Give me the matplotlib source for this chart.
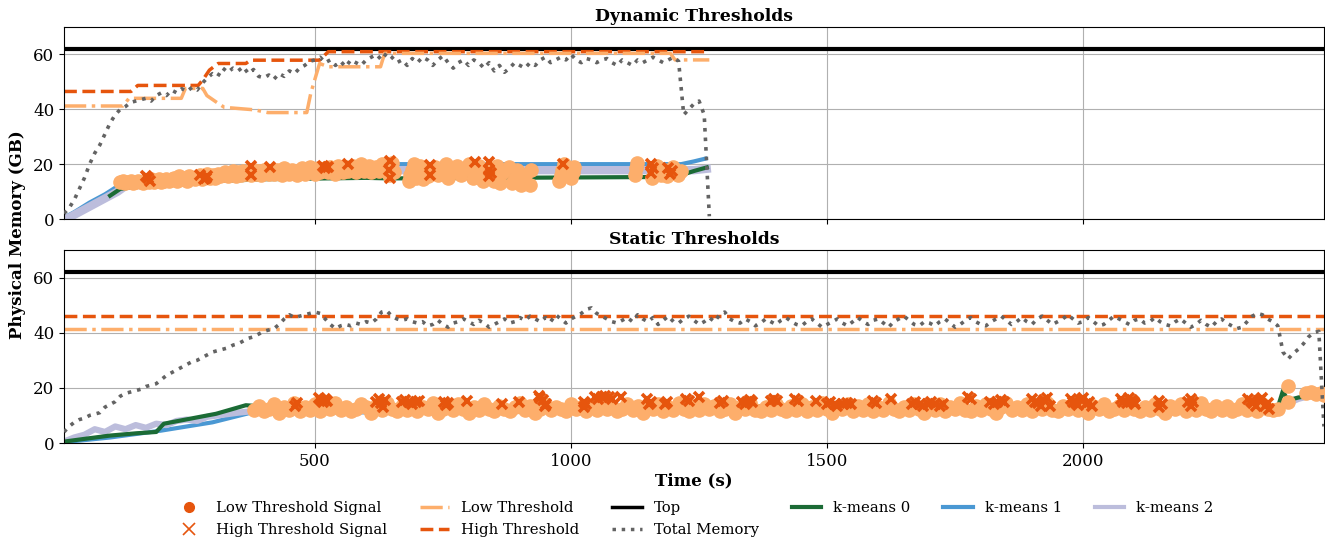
import numpy as np
import matplotlib
matplotlib.use("Agg")
import matplotlib.pyplot as plt
from matplotlib.lines import Line2D

plt.rcParams['font.family'] = ['DejaVu Serif']

# ---------------- colours ----------------
C_HIGH = '#e6550d'
C_LOW = '#fdae6b'
C_TOP = 'black'
C_TOTAL = '#636363'
C_K0 = '#1b6b35'
C_K1 = '#4a98d3'
C_K2 = '#bcbddc'

TOP_MEM = 62.0

# ---------------- DYNAMIC panel data ----------------
dyn_total_t = np.arange(10, 1271, 10)
dyn_total_v = [
    2, 4, 7, 11, 15, 20, 24, 27, 31, 35,
    38, 40, 41, 42.5, 43, 43.5, 44, 43, 45, 46,
    45, 47, 46, 47.5, 46.5, 48, 47, 49.5, 51.5, 53,
    52, 55, 53.5, 55, 54, 55.5, 53, 54.5, 52, 51.5,
    52.5, 51, 53, 52, 54, 53, 55, 56, 57.5, 58,
    59, 57, 58, 56, 57.5, 55.5, 58, 57, 56, 58,
    59, 60, 58, 60.5, 59, 57, 58, 56, 58.5, 57,
    59, 58, 56, 58, 59.5, 57, 55, 57, 58, 56,
    58, 57, 55, 57, 54, 56, 53.5, 55, 57, 56,
    55, 57, 56, 58, 59, 57, 58, 59, 58, 60,
    58, 57, 58.5, 58, 57, 58, 58.5, 57, 56, 58,
    57, 56, 58, 57, 58, 59, 58, 57, 58, 59,
    57.5, 38, 40, 42, 43, 38, 1,
]

dyn_high_t = [10, 141, 154, 272, 281, 294, 311, 365, 374, 509, 526, 1270]
dyn_high_v = [46.5, 46.5, 48.7, 48.7, 50.7, 54.3, 56.7, 56.7, 57.9, 57.9, 61, 61]

dyn_low_t = [10, 125, 137, 239, 247, 281, 289, 306, 323, 382, 408, 484, 492,
             509, 526, 628, 636, 1194, 1203, 1270]
dyn_low_v = [41.2, 41.2, 44, 44, 47.6, 47.6, 45, 42.8, 40.7, 39.8, 38.8, 38.8, 46,
             56.7, 55.5, 55.5, 60.4, 60.4, 58, 58]

dyn_k0_t = [100, 120, 200, 400, 600, 645, 1160, 1215, 1240, 1265]
dyn_k0_v = [8.5, 11, 13, 14.5, 15, 14.8, 15.3, 16, 17.5, 18.8]
dyn_k1_t = [10, 30, 60, 90, 115, 130, 200, 300, 400, 500, 600, 645, 1215, 1240, 1262]
dyn_k1_v = [0.5, 2.5, 6, 9, 12, 12.5, 14, 16, 17, 18, 19, 20, 20, 21, 22]
dyn_k2_t = [10, 20, 40, 60, 80, 100, 115, 130, 200, 300, 400, 500, 600, 645, 1240, 1265]
dyn_k2_v = [0, 0.5, 2.5, 4.5, 6.5, 8.5, 10, 12, 13.5, 15, 16, 16.5, 17, 17.8, 17.8, 18.3]

dyn_lowsig_t1 = np.arange(120, 646, 5)
dyn_lowsig_v1 = [
    13.5, 14, 13, 13.5, 14, 13, 13.5, 14, 13.5, 13,
    14, 13.5, 14.5, 13.5, 14, 14.5, 13.5, 14, 14.5, 14,
    14.5, 15, 14, 15.5, 14.5, 15, 14, 15.5, 15, 14.5,
    15, 16, 14.5, 15.5, 16.5, 15, 16, 15, 16.5, 15.5,
    16, 17, 15.5, 16.5, 17.5, 15.5, 17, 16, 17.5, 16.5,
    17, 16, 18, 16.5, 17.5, 16, 18, 17, 16.5, 17.5,
    16.5, 18, 17, 16, 18.5, 17, 16.5, 18, 17.5, 16,
    17.5, 18.5, 16.5, 17, 19, 17.5, 16.5, 18.5, 17, 18,
    18.5, 17, 19, 17.5, 16.5, 19.5, 18, 17, 19, 17.5,
    18, 19.5, 17, 18.5, 20, 17.5, 18, 19.5, 17, 18.5,
    19, 17.5, 20, 18, 17, 19.5,
]
dyn_lowsig_t2 = [645, 648, 650, 655, 683, 686, 690, 693, 697, 700, 705, 710, 712,
                 720, 728, 735, 740, 748, 755, 760, 770, 778, 785, 792, 800, 808,
                 815, 820, 828, 835, 845, 850, 856, 862, 868, 878, 885, 890, 895,
                 903, 910, 920, 922, 977, 980, 983, 986, 1000, 1003, 1006, 1124,
                 1126, 1128, 1158, 1162, 1168, 1175, 1182, 1188, 1195, 1200, 1208, 1214]
dyn_lowsig_v2 = [16, 18.5, 20.5, 17, 14, 16, 18, 20, 15, 17.5, 19.5, 14.5, 17,
                 15.5, 17.5, 19, 16, 18, 20, 15, 17, 19.5, 16, 18.5, 20, 15,
                 17.5, 19.5, 14, 16.5, 18, 14, 19.5, 13, 17, 19, 13, 15, 18,
                 12.5, 16, 12.5, 18, 14, 16, 18, 20, 15, 17, 19, 16,
                 18.5, 20.5, 15, 17.5, 19.5, 16, 18, 15.5, 17, 19, 16, 17.5]

dyn_highsig_t = [170, 174, 178, 275, 283, 287, 290, 376, 376, 412, 515, 520, 525, 565,
                 645, 647, 647, 725, 725, 812, 840, 843, 840, 840, 984, 1157, 1160,
                 1157, 1190, 1194, 1198]
dyn_highsig_v = [15.5, 14.8, 14, 16, 14.5, 14.8, 15.5, 19.5, 16, 19, 19.5, 18.5, 19, 20,
                 18, 21, 15, 19.6, 16, 20.7, 20.7, 16.8, 18, 15.5, 20, 20, 18.5,
                 16.7, 18.5, 16.5, 17.5]

# ---------------- STATIC panel data ----------------
sta_total_t = np.arange(10, 2471, 10)
sta_total_v = [
    4, 6, 7.5, 8.5, 9, 10, 10.5, 11, 13, 14,
    15, 17, 18, 18.5, 19, 19.5, 20.5, 21, 21.5, 23,
    24.5, 25.5, 26.5, 27.5, 28.5, 29.5, 30, 31, 32, 33,
    33.5, 34, 34.5, 35.5, 36, 37, 38, 38.5, 39.5, 40.5,
    41, 41.5, 43, 45, 46.5, 45.5, 46, 46.5, 47, 47.5,
    47, 45, 43, 41.5, 42.5, 43, 42.5, 43.5, 43, 44,
    43.5, 45, 47.5, 48, 46, 45, 44.5, 45, 44, 43.5,
    44, 42.5, 43, 44.5, 43, 42, 43.5, 44, 45, 44,
    43, 44.5, 43.5, 42, 43, 44, 45, 43.5, 44, 45.5,
    44.5, 46, 45, 44, 45.5, 44, 46.5, 45, 43.5, 45,
    46, 47, 48.5, 49, 47, 46, 45, 44, 43.5, 44.5,
    45.5, 44, 46.5, 45, 44, 45.5, 43, 44.5, 46, 44,
    43.5, 45, 46, 44.5, 43, 44, 45.5, 44, 46.5, 47.5,
    45, 44, 43.5, 45, 44, 42.5, 43.5, 45, 44, 43,
    44.5, 45.5, 44, 43, 42.5, 44, 45, 43.5, 42, 43,
    44, 45, 43.5, 42.5, 44, 45.5, 44, 43, 44.5, 45,
    43.5, 42, 44, 45, 46, 44.5, 43, 42.5, 44, 43.5,
    42.5, 44, 45, 43.5, 42, 43, 44.5, 45.5, 44, 43,
    42.5, 44, 45, 46, 44.5, 43, 44, 45.5, 44, 43,
    45, 46, 44.5, 43, 44, 45, 46.5, 45, 43.5, 44,
    45.5, 44, 42.5, 43, 44.5, 46, 45, 44, 43, 44.5,
    45, 43.5, 44, 45.5, 44, 43, 42.5, 44, 45, 43.5,
    42, 43, 44.5, 43, 42, 44, 45, 43.5, 42.5, 41.5,
    42, 44, 46, 47, 46.5, 45, 44, 42.5, 33, 30.5,
    32.5, 34, 36, 38.5, 40, 40.5, 6,
]

sta_high_t = [10, 2470]
sta_high_v = [46.2, 46.2]
sta_low_t = [10, 2470]
sta_low_v = [41.3, 41.3]

sta_k0_t = [10, 50, 100, 150, 190, 205, 256, 307, 365, 380, 2380, 2390, 2400, 2410, 2420, 2470]
sta_k0_v = [0.5, 1.5, 2.7, 3.5, 4, 7, 8.8, 10.6, 13.7, 13.5, 13, 19, 15, 16, 16.5, 18]
sta_k1_t = [10, 100, 200, 300, 375, 2380, 2400, 2470]
sta_k1_v = [0.3, 2, 4.5, 7.5, 11, 12, 15, 18.5]
sta_k2_t = [10, 30, 50, 70, 90, 110, 130, 150, 170, 190, 210, 230, 250, 270, 290,
            310, 330, 350, 375, 2380, 2395, 2420, 2440, 2470]
sta_k2_v = [0.5, 2, 3, 5, 4, 6, 5, 6.5, 5.5, 7, 6.5, 8, 8.5, 8, 9.5,
            10, 10.5, 11, 11.5, 12.5, 14, 16, 17, 18]

sta_lowsig_t1 = np.arange(380, 2381, 10)
sta_lowsig_v1 = [
    12.0, 13.5, 11.5, 12.5, 14.0, 11.0, 13.0, 12.0, 14.5, 11.5,
    13.0, 12.0, 14.0, 11.5, 13.5, 12.5, 14.5, 12.0, 13.0, 11.5,
    12.5, 14.0, 13.0, 11.0, 13.5, 12.0, 14.5, 12.5, 11.5, 13.5,
    12.0, 14.0, 11.5, 13.0, 12.5, 14.5, 11.0, 12.5, 13.5, 12.0,
    14.0, 12.5, 11.0, 13.0, 12.0, 14.0, 12.5, 11.5, 13.5, 12.5,
    11.5, 13.0, 14.5, 12.0, 13.5, 11.0, 12.5, 14.0, 12.0, 13.0,
    12.5, 11.5, 14.0, 12.5, 13.0, 11.5, 13.5, 12.0, 14.5, 12.5,
    13.0, 11.5, 12.5, 14.0, 12.0, 13.5, 11.0, 13.0, 12.5, 14.0,
    11.5, 13.0, 12.0, 14.5, 12.5, 11.5, 13.5, 12.0, 14.0, 12.5,
    13.5, 11.5, 12.5, 14.0, 11.0, 13.0, 12.5, 14.5, 12.0, 11.5,
    13.0, 12.0, 14.0, 12.5, 11.5, 13.5, 12.0, 14.0, 11.5, 13.0,
    12.0, 14.5, 12.5, 11.0, 13.0, 12.5, 14.0, 11.5, 13.5, 12.0,
    14.0, 11.5, 13.0, 12.0, 14.5, 12.5, 11.5, 13.0, 12.0, 14.0,
    12.5, 11.0, 13.5, 12.0, 14.0, 11.5, 13.0, 12.5, 14.5, 12.0,
    11.5, 13.5, 12.0, 14.0, 12.5, 11.0, 13.0, 14.5, 12.0, 13.0,
    12.0, 14.0, 11.5, 13.0, 12.5, 14.5, 12.0, 11.5, 13.5, 12.5,
    14.0, 12.0, 13.0, 11.0, 13.5, 12.5, 14.0, 11.5, 12.5, 13.5,
    12.0, 14.5, 12.5, 11.5, 13.0, 12.0, 14.0, 12.5, 11.0, 13.5,
    12.5, 14.0, 11.5, 13.0, 12.0, 14.5, 12.5, 11.5, 13.5, 12.0,
    13.5, 11.5, 12.5, 14.0, 12.0, 13.0, 11.5, 14.0, 12.5, 12.0,
    12.5,
]
sta_lowsig_t2 = [2400, 2400, 2435, 2445, 2455, 2465, 2470]
sta_lowsig_v2 = [20.8, 15, 18, 18.5, 17.8, 18.3, 17.5]

sta_highsig_t = [461, 465, 508, 512, 516, 520, 524, 620, 625, 629, 633, 637, 670, 676,
                 684, 690, 697, 703, 752, 756, 760, 797, 865, 898, 937, 940, 945, 949,
                 952, 1025, 1025, 1030, 1047, 1052, 1060, 1066, 1074, 1080, 1098,
                 1148, 1152, 1156, 1183, 1188, 1225, 1230, 1249, 1290, 1297, 1334,
                 1340, 1344, 1349, 1354, 1390, 1396, 1402, 1437, 1443, 1478, 1500,
                 1505, 1515, 1520, 1531, 1538, 1547, 1590, 1595, 1625, 1666, 1671,
                 1681, 1688, 1696, 1703, 1711, 1720, 1727, 1775, 1780, 1818, 1825,
                 1832, 1840, 1846, 1900, 1905, 1912, 1918, 1924, 1930, 1936, 1977,
                 1980, 1985, 1990, 1995, 2000, 2005, 2012, 2018, 2073, 2078, 2085,
                 2090, 2095, 2100, 2101, 2148, 2148, 2153, 2205, 2211, 2211, 2215,
                 2322, 2327, 2332, 2338, 2345, 2350, 2355, 2360, 2363]
sta_highsig_v = [13.6, 14.5, 16.3, 15.5, 14.8, 16, 15.2, 15, 16, 14.5, 13, 15.5, 14.8, 15.5,
                 14.8, 14, 14.8, 15.3, 15, 13.8, 14.5, 15.4, 14, 14.8, 17.2, 16.3, 15.5, 13.5,
                 14, 14.8, 13, 14, 16.6, 15.8, 16.6, 17, 16.6, 16, 16.6,
                 15.8, 14.3, 15, 14, 14.8, 16, 15.2, 16.6, 14.6, 15.4, 14.8,
                 14.3, 15, 15.6, 14.8, 15.2, 16, 15.4, 16, 15.2, 15.4, 14,
                 14.8, 14, 13.5, 14, 14.6, 14, 15.4, 14.6, 16, 14, 14.8,
                 14.2, 13.6, 14, 14.8, 14.2, 13.5, 14, 16.6, 15.8, 14.8, 14,
                 14.8, 15.5, 14.8, 16, 15, 14.5, 13.5, 15.5, 16.3, 13.5, 16,
                 15, 14.5, 13.8, 15.5, 16.3, 14, 14.8, 13.5, 16, 15, 14.5,
                 16.5, 15.5, 15, 14, 15.4, 13, 14.2, 14.8, 16, 13.5, 14.8,
                 16, 15.3, 14.5, 13.5, 15.5, 16.3, 13.5, 14.5, 12.5]

YTICKS = [0, 20, 40, 60]
XTICKS = [500, 1000, 1500, 2000]

# ---------------- figure ----------------
fig = plt.figure(figsize=(13.25, 5.39), dpi=100)
ax_top = fig.add_axes([64 / 1325, 1 - 219 / 539, 1 - 64 / 1325 - 0.0008, 192 / 539])
ax_bot = fig.add_axes([64 / 1325, 1 - 443 / 539, 1 - 64 / 1325 - 0.0008, 193 / 539],
                      sharex=ax_top)


def draw_panel(ax, total_t, total_v, high_t, high_v, low_t, low_v,
               k0, k1, k2, lows1, lows2, highs, title, k2_lw):
    ax.grid(True, color='#b0b0b0', lw=0.8, zorder=0)
    ax.set_axisbelow(True)
    ax.axhline(TOP_MEM, color=C_TOP, lw=3, zorder=2)
    ax.plot(high_t, high_v, color=C_HIGH, ls='--', lw=2.5, zorder=2)
    ax.plot(low_t, low_v, color=C_LOW, ls='-.', lw=2.5, zorder=2)
    ax.plot(k1[0], k1[1], color=C_K1, lw=3, zorder=2.2)
    ax.plot(k2[0], k2[1], color=C_K2, lw=k2_lw, zorder=2.3)
    ax.plot(k0[0], k0[1], color=C_K0, lw=3, zorder=2.4)
    ax.plot(lows1[0], lows1[1], ls='none', marker='o', ms=9.5, color=C_LOW,
            mec=C_LOW, zorder=3)
    ax.plot(lows2[0], lows2[1], ls='none', marker='o', ms=9.5, color=C_LOW,
            mec=C_LOW, zorder=3)
    ax.plot(highs[0], highs[1], ls='none', marker='x', ms=7, mew=2.6,
            color=C_HIGH, zorder=4)
    ax.plot(total_t, total_v, color=C_TOTAL, ls=':', lw=2.6, zorder=3.5)
    ax.set_ylim(0, 70)
    ax.set_yticks(YTICKS)
    ax.tick_params(labelsize=12)
    ax.set_title(title, fontsize=12.4, fontweight='bold', pad=4)


draw_panel(ax_top, dyn_total_t, dyn_total_v, dyn_high_t, dyn_high_v,
           dyn_low_t, dyn_low_v, (dyn_k0_t, dyn_k0_v), (dyn_k1_t, dyn_k1_v),
           (dyn_k2_t, dyn_k2_v), (dyn_lowsig_t1, dyn_lowsig_v1),
           (dyn_lowsig_t2, dyn_lowsig_v2), (dyn_highsig_t, dyn_highsig_v),
           'Dynamic Thresholds', 6)
draw_panel(ax_bot, sta_total_t, sta_total_v, sta_high_t, sta_high_v,
           sta_low_t, sta_low_v, (sta_k0_t, sta_k0_v), (sta_k1_t, sta_k1_v),
           (sta_k2_t, sta_k2_v), (sta_lowsig_t1, sta_lowsig_v1),
           (sta_lowsig_t2, sta_lowsig_v2), (sta_highsig_t, sta_highsig_v),
           'Static Thresholds', 4.5)

ax_top.set_xlim(10, 2470)
ax_top.set_xticks(XTICKS)
ax_top.tick_params(axis='x', labelbottom=False)
ax_bot.set_xlabel('Time (s)', fontsize=12, fontweight='bold', labelpad=2)

fig.text(0.013, 1 - 235 / 539, 'Physical Memory (GB)', rotation=90,
         fontsize=12, fontweight='bold', ha='center', va='center')

handles = [
    Line2D([], [], ls='none', marker='o', ms=7, color=C_HIGH),
    Line2D([], [], ls='none', marker='x', ms=8, mew=1.2, color=C_HIGH),
    Line2D([], [], color=C_LOW, ls='-.', lw=2.5),
    Line2D([], [], color=C_HIGH, ls='--', lw=2.5),
    Line2D([], [], color=C_TOP, lw=2.5),
    Line2D([], [], color=C_TOTAL, ls=':', lw=2.5),
    Line2D([], [], color=C_K0, lw=3),
    Line2D([], [], color=C_K1, lw=3),
    Line2D([], [], color=C_K2, lw=3),
]
labels = ['Low Threshold Signal', 'High Threshold Signal', 'Low Threshold',
          'High Threshold', 'Top', 'Total Memory', 'k-means 0', 'k-means 1',
          'k-means 2']
ax_bot.legend(handles, labels, loc='upper center', bbox_to_anchor=(0.5, -0.23),
              ncol=6, frameon=False, fontsize=10.7, handlelength=2.0,
              columnspacing=2.2, labelspacing=0.55)

fig.savefig('out.png', dpi=100)
